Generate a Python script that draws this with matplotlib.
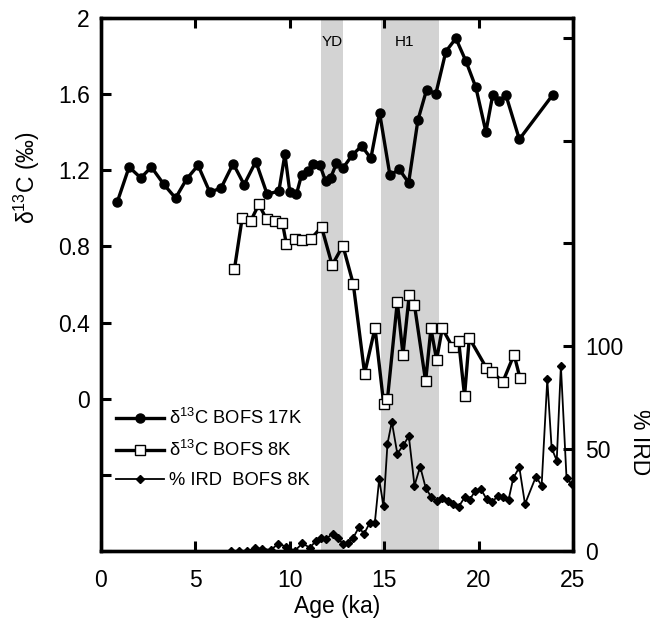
import matplotlib
matplotlib.use('Agg')
import matplotlib.pyplot as plt

plt.rcParams['font.family'] = ['Liberation Sans', 'DejaVu Sans']
plt.rcParams['mathtext.fontset'] = 'custom'
plt.rcParams['mathtext.rm'] = 'Liberation Sans'
plt.rcParams['mathtext.it'] = 'Liberation Sans:italic'

# d13C, BOFS 17K
age_17k = [0.88, 1.50, 2.12, 2.68, 3.34, 3.96, 4.54, 5.15, 5.77, 6.36, 7.01, 7.59,
           8.21, 8.81, 9.43, 9.75, 10.01, 10.36, 10.63, 10.98, 11.25, 11.60, 11.90,
           12.17, 12.48, 12.84, 13.31, 13.81, 14.30, 14.76, 15.31, 15.80, 16.30,
           16.79, 17.25, 17.74, 18.27, 18.80, 19.33, 19.86, 20.39, 20.75, 21.10,
           21.45, 22.16, 23.92]
d13c_17k = [1.035, 1.217, 1.16, 1.217, 1.126, 1.054, 1.153, 1.226, 1.086, 1.105,
            1.235, 1.125, 1.246, 1.074, 1.091, 1.284, 1.086, 1.074, 1.175, 1.198,
            1.235, 1.228, 1.144, 1.16, 1.237, 1.214, 1.279, 1.328, 1.263, 1.503,
            1.174, 1.205, 1.135, 1.463, 1.623, 1.602, 1.824, 1.893, 1.774, 1.635,
            1.402, 1.595, 1.565, 1.595, 1.363, 1.595]

# d13C, BOFS 8K
age_8k = [7.08, 7.49, 7.93, 8.37, 8.78, 9.20, 9.62, 9.83, 10.26, 10.68, 11.12,
          11.69, 12.25, 12.82, 13.37, 13.97, 14.52, 14.98, 15.18, 15.70, 16.0,
          16.33, 16.61, 17.20, 17.48, 17.78, 18.08, 18.63, 18.95, 19.26, 19.51,
          20.41, 20.73, 21.29, 21.88, 22.19]
d13c_8k = [0.683, 0.951, 0.932, 1.021, 0.942, 0.932, 0.923, 0.811, 0.837, 0.832,
           0.839, 0.902, 0.702, 0.804, 0.602, 0.132, 0.372, -0.028, 0.0, 0.509,
           0.232, 0.544, 0.491, 0.091, 0.37, 0.204, 0.37, 0.27, 0.302, 0.014,
           0.319, 0.163, 0.139, 0.089, 0.232, 0.111]

# % IRD, BOFS 8K
age_ird = [6.87, 7.31, 7.72, 8.16, 8.56, 9.0, 9.41, 9.83, 10.28, 10.68, 11.07,
           11.39, 11.65, 11.95, 12.27, 12.54, 12.80, 13.07, 13.37, 13.68, 13.93,
           14.25, 14.51, 14.74, 14.97, 15.18, 15.41, 15.70, 16.01, 16.31, 16.61,
           16.91, 17.20, 17.48, 17.78, 18.08, 18.36, 18.66, 18.95, 19.26, 19.53,
           19.83, 20.11, 20.43, 20.73, 21.01, 21.31, 21.59, 21.84, 22.16, 22.46,
           23.04, 23.34, 23.64, 23.87, 24.14, 24.36, 24.66, 24.93]
ird = [0, 0, 0, 1.3, 1.1, 0.5, 3.6, 2.0, 0.2, 3.7, 1.6, 4.9, 6.5, 6.0, 8.5, 6.5,
       3.6, 4.1, 6.5, 11.8, 8.2, 13.9, 13.8, 35.0, 21.8, 52.3, 63.0, 47.5, 51.5,
       56.0, 31.9, 41.2, 30.9, 26.5, 24.3, 26.0, 24.2, 22.7, 21.6, 26.1, 25.0,
       29.4, 30.4, 25.3, 23.7, 27.0, 26.5, 25.0, 35.6, 40.8, 22.9, 36.3, 31.9,
       83.7, 50.2, 44.1, 90.3, 35.4, 32.7]

events = [('YD', 11.65, 12.82, 12.24), ('H1', 14.83, 17.9, 16.1)]

fig = plt.figure(figsize=(6.5, 6.25), dpi=100)
ax1 = fig.add_axes([0.155, 0.1184, 0.7265, 0.8528])
ax2 = ax1.twinx()

for name, x0, x1, xt in events:
    ax1.axvspan(x0, x1, color='#d3d3d3', lw=0, zorder=0)
    ax1.text(xt, 1.875, name, ha='center', va='center', fontsize=11)

l1, = ax1.plot(age_17k, d13c_17k, '-o', color='black', lw=2.4, ms=6.5,
               label='δ$^{13}$C BOFS 17K')
l2, = ax1.plot(age_8k, d13c_8k, '-s', color='black', lw=2.4, ms=7.5,
               mfc='white', mec='black', mew=1.0, label='δ$^{13}$C BOFS 8K')
l3, = ax2.plot(age_ird, ird, '-D', color='black', lw=1.3, ms=4.5,
               label='% IRD  BOFS 8K')

ax1.set_xlim(0, 25)
ax1.set_ylim(-0.8, 2.0)
ax2.set_ylim(0, 260)

ax1.set_xticks([0, 5, 10, 15, 20, 25])
ax1.set_yticks([-0.8, -0.4, 0, 0.4, 0.8, 1.2, 1.6, 2.0])
ax1.set_yticklabels(['', '', '0', '0.4', '0.8', '1.2', '1.6', '2'])
ax2.set_yticks([0, 50, 100, 150, 200, 250])
ax2.set_yticklabels(['0', '50', '100', '', '', ''])

ax1.tick_params(axis='x', direction='in', top=True, length=7, width=2.2,
                labelsize=16.5, pad=13)
ax1.tick_params(axis='y', direction='in', length=7, width=2.2,
                labelsize=16.5, pad=8)
ax2.tick_params(axis='y', direction='in', length=7, width=2.2,
                labelsize=16.5, pad=9)

for ax in (ax1, ax2):
    for sp in ax.spines.values():
        sp.set_linewidth(2.4)

ax1.set_xlabel('Age (ka)', fontsize=16.5, labelpad=2)
ax1.set_ylabel('δ$^{13}$C (‰)', fontsize=16.5, va='center')
ax1.yaxis.set_label_coords(-0.157, 0.70)
ax2.set_ylabel('% IRD', fontsize=16.5, rotation=270, va='center')
ax2.yaxis.set_label_coords(1.14, 0.205)

ax2.legend(handles=[l1, l2, l3], loc='upper left',
           bbox_to_anchor=(0.017, 0.282), frameon=False, fontsize=13.2,
           handlelength=2.6, handletextpad=0.3, labelspacing=0.65,
           borderaxespad=0)

fig.savefig('out.png', dpi=100)
